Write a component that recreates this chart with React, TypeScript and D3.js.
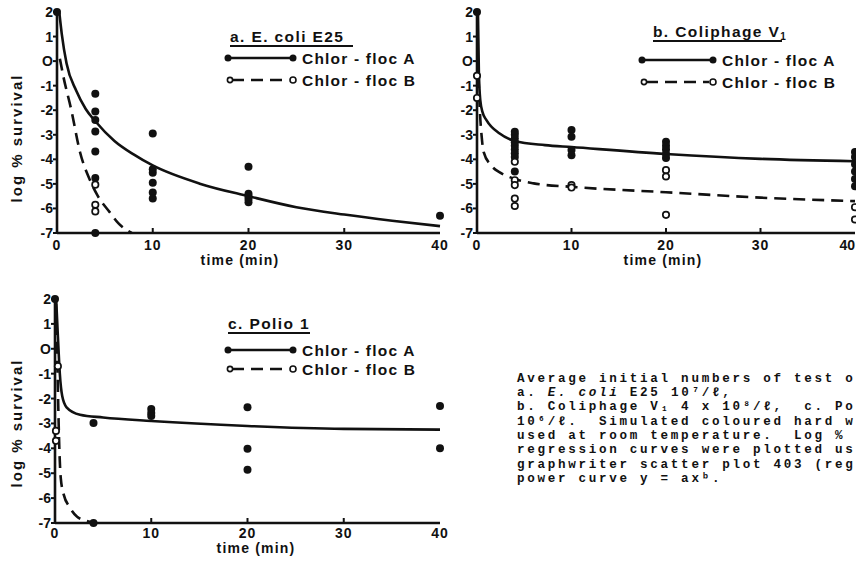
import React from "react";
import * as d3 from "d3";

type Pt = [number, number];

const timeTicks = [0, 10, 20, 30, 40];
const logTicks = [2, 1, 0, -1, -2, -3, -4, -5, -6, -7];
const seriesNames = ["Chlor - floc A", "Chlor - floc B"];

// a. E. coli E25
const ecoliDotsA: Pt[] = [
  [0, 2], [4, -1.33], [4, -2.05], [4, -2.4], [4, -2.87], [4, -3.68], [4, -4.76], [4, -7],
  [10, -2.95], [10, -4.4], [10, -4.55], [10, -4.95], [10, -5.35], [10, -5.6],
  [20, -4.3], [20, -5.4], [20, -5.5], [20, -5.62], [20, -5.75], [40, -6.3],
];
const ecoliDotsB: Pt[] = [[4, -5.03], [4, -5.85], [4, -6.12]];
const ecoliCurveA: Pt[] = [
  [0.25, 1.95], [0.5, 1.1], [1, -0.1], [2, -1.2], [3, -1.95], [4, -2.45], [6, -3.25], [8, -3.8],
  [10, -4.25], [15, -5.0], [20, -5.5], [25, -5.95], [30, -6.25], [35, -6.5], [40, -6.72],
];
const ecoliCurveB: Pt[] = [
  [0.3, 0.1], [0.65, -0.6], [1.5, -2.0], [2.4, -3.7], [3.45, -4.85], [4.2, -5.45],
  [5.5, -6.15], [6.4, -6.6], [7.8, -7],
];

// b. Coliphage V1
const coliDotsA: Pt[] = [
  [0, 2], [4, -2.88], [4, -3.0], [4, -3.15], [4, -3.3], [4, -3.45], [4, -3.6], [4, -3.75], [4, -3.9], [4, -4.5],
  [10, -2.81], [10, -3.08], [10, -3.62], [10, -3.83],
  [20, -3.28], [20, -3.45], [20, -3.6], [20, -3.78], [20, -3.95],
  [40, -3.7], [40, -3.9], [40, -4.2], [40, -4.5], [40, -4.8], [40, -5.1],
];
const coliDotsB: Pt[] = [
  [0, -0.6], [0, -1.5], [4, -4.1], [4, -4.85], [4, -5.05], [4, -5.6], [4, -5.9],
  [10, -5.05], [10, -5.15], [20, -4.44], [20, -4.7], [20, -6.26], [40, -5.95], [40, -6.45],
];
const coliCurveA: Pt[] = [
  [0.1, 2], [0.2, -0.5], [0.35, -1.6], [0.6, -2.1], [1, -2.4], [2.4, -2.95], [4, -3.25],
  [7.2, -3.42], [10, -3.5], [20, -3.78], [30, -3.98], [40, -4.08],
];
const coliCurveB: Pt[] = [
  [0.15, -0.6], [0.3, -2.0], [0.5, -3.1], [0.7, -3.7], [1.5, -4.25], [2.5, -4.55], [4, -4.8],
  [6, -4.98], [10, -5.12], [20, -5.34], [30, -5.56], [40, -5.7],
];

// c. Polio 1
const polioDotsA: Pt[] = [
  [0, 2], [4, -2.98], [4, -7], [10, -2.42], [10, -2.58], [10, -2.7],
  [20, -2.35], [20, -4.02], [20, -4.86], [40, -2.3], [40, -4.0],
];
const polioDotsB: Pt[] = [[0.3, -0.7], [0.1, -3.3], [0.1, -3.7]];
const polioCurveA: Pt[] = [
  [0.12, 2], [0.3, 0.5], [0.5, -1.0], [0.75, -1.9], [1.2, -2.35], [2.6, -2.65], [5, -2.76],
  [10, -2.9], [20, -3.1], [30, -3.22], [40, -3.25],
];
const polioCurveB: Pt[] = [
  [0.1, 1.8], [0.25, -0.7], [0.35, -2.5], [0.45, -4.0], [0.6, -5.2], [0.9, -5.85], [1.5, -6.35],
  [2.3, -6.75], [3.6, -6.95], [4, -7],
];

// caption, as far as it shows inside the frame
const captionLines = [
  "Average initial numbers of test o",
  "a. |E. coli| E25 10⁷/ℓ,",
  "b. Coliphage V₁ 4 x 10⁸/ℓ,  c. Po",
  "10⁶/ℓ.  Simulated coloured hard w",
  "used at room temperature.  Log %",
  "regression curves were plotted us",
  "graphwriter scatter plot 403 (reg",
  "power curve y = axᵇ.",
];

const INK = "#111";
const SANS = "'Liberation Sans', Arial, sans-serif";
const W = 856;

function Legend({ x, y0, y1, lineEnd }: { x: number; y0: number; y1: number; lineEnd: number }) {
  return (
    <g>
      <line x1={x} x2={lineEnd} y1={y0} y2={y0} stroke={INK} strokeWidth={2.5} />
      <circle cx={x} cy={y0} r={3.5} fill={INK} />
      <circle cx={lineEnd} cy={y0} r={3.5} fill={INK} />
      <text x={lineEnd + 9} y={y0 + 6} fontFamily={SANS} fontWeight="bold" fontSize={15.5} letterSpacing={1.2} fill={INK}>
        {seriesNames[0]}
      </text>
      <line x1={x + 4} x2={lineEnd - 4} y1={y1} y2={y1} stroke={INK} strokeWidth={2.5} strokeDasharray="12,7" />
      <circle cx={x + 2} cy={y1} r={2.6} fill="#fff" stroke={INK} strokeWidth={1.6} />
      <circle cx={lineEnd} cy={y1} r={3} fill="#fff" stroke={INK} strokeWidth={1.6} />
      <text x={lineEnd + 9} y={y1 + 6} fontFamily={SANS} fontWeight="bold" fontSize={15.5} letterSpacing={1.2} fill={INK}>
        {seriesNames[1]}
      </text>
    </g>
  );
}

function Panel(p: {
  left: number; right: number; top: number; bottom: number;
  dotsA: Pt[]; dotsB: Pt[]; curveA: Pt[]; curveB: Pt[];
  title: React.ReactNode; titleX: number; titleY: number; underline: number;
  legX: number; legEnd: number; rowA: number; rowB: number;
  yTitleY?: number; xLabelGap: number; xTitleX: number;
}) {
  const x = d3.scaleLinear().domain([0, 40]).range([p.left, p.right]);
  const y = d3.scaleLinear().domain([-7, 2]).range([p.bottom, p.top]);
  const line = d3.line<Pt>().x((d) => x(d[0])).y((d) => y(d[1])).curve(d3.curveMonotoneX);

  return (
    <g>
      {/* axes */}
      <line x1={p.left} x2={p.left} y1={p.top - 1} y2={p.bottom} stroke={INK} strokeWidth={2.6} />
      <line x1={p.left} x2={p.right} y1={p.bottom} y2={p.bottom} stroke={INK} strokeWidth={2.6} />
      {logTicks.map((t) => (
        <g key={"y" + t}>
          <line x1={p.left - 4} x2={p.left} y1={y(t)} y2={y(t)} stroke={INK} strokeWidth={2} />
          <text x={p.left - 4} y={y(t) + 5} textAnchor="end" fontFamily={SANS} fontWeight="bold" fontSize={14} fill={INK}>
            {t < 0 ? "-" + Math.abs(t) : t === 0 ? "O" : t}
          </text>
        </g>
      ))}
      {timeTicks.map((t) => {
        const atEdge = x(t) + 9 > W;
        return (
          <g key={"x" + t}>
            {t > 0 && t < 40 && <line x1={x(t)} x2={x(t)} y1={p.bottom} y2={p.bottom - 5} stroke={INK} strokeWidth={2} />}
            <text x={atEdge ? W - 1 : x(t)} y={p.bottom + p.xLabelGap} textAnchor={atEdge ? "end" : "middle"} fontFamily={SANS} fontWeight="bold" fontSize={14} letterSpacing={atEdge ? 0 : 1} fill={INK}>
              {t}
            </text>
          </g>
        );
      })}
      <text x={p.xTitleX} y={p.bottom + p.xLabelGap + 15} textAnchor="middle" fontFamily={SANS} fontWeight="bold" fontSize={14} letterSpacing={1.2} fill={INK}>
        time (min)
      </text>
      {p.yTitleY !== undefined && (
        <text transform={`translate(22,${p.yTitleY}) rotate(-90)`} textAnchor="middle" fontFamily={SANS} fontWeight="bold" fontSize={15} letterSpacing={2} fill={INK}>
          log % survival
        </text>
      )}

      {/* regression curves */}
      <path d={line(p.curveA) ?? ""} fill="none" stroke={INK} strokeWidth={2.6} />
      <path d={line(p.curveB) ?? ""} fill="none" stroke={INK} strokeWidth={2.6} strokeDasharray="12,7" />

      {/* observations */}
      {p.dotsA.map((d, i) => (
        <circle key={"a" + i} cx={x(d[0])} cy={y(d[1])} r={4} fill={INK} />
      ))}
      {p.dotsB.map((d, i) => (
        <circle key={"b" + i} cx={x(d[0])} cy={y(d[1])} r={3.2} fill="#fff" stroke={INK} strokeWidth={1.7} />
      ))}

      {/* legend */}
      <text x={p.titleX} y={p.titleY} fontFamily={SANS} fontWeight="bold" fontSize={15.5} letterSpacing={1.4} fill={INK}>
        {p.title}
      </text>
      <line x1={p.titleX} x2={p.underline} y1={p.titleY + 4} y2={p.titleY + 4} stroke={INK} strokeWidth={1.8} />
      <Legend x={p.legX} y0={p.rowA} y1={p.rowB} lineEnd={p.legEnd} />
    </g>
  );
}

function Caption() {
  const baseY = 381.7;
  const step = 14.3;
  return (
    <g fontFamily="'Liberation Mono', 'DejaVu Sans Mono', monospace" fontSize={12.6} letterSpacing={2.7} fontWeight="bold" fill={INK}>
      {captionLines.map((ln, i) => {
        const parts = ln.split("|");
        return (
          <text key={i} x={517} y={baseY + i * step} xmlSpace="preserve" style={{ whiteSpace: "pre" }}>
            {parts.map((s, j) => (
              <tspan key={j} fontStyle={j % 2 === 1 ? "italic" : "normal"}>{s}</tspan>
            ))}
          </text>
        );
      })}
    </g>
  );
}

export default function App() {
  return (
    <svg width={W} height={562} style={{ position: "absolute", left: 0, top: 0, background: "#fff" }}>
      <rect width={W} height={562} fill="#fff" />
      <Panel
        left={57} right={440} top={12} bottom={233}
        dotsA={ecoliDotsA} dotsB={ecoliDotsB} curveA={ecoliCurveA} curveB={ecoliCurveB}
        title="a. E. coli E25" titleX={230} titleY={42} underline={353}
        legX={228} legEnd={293} rowA={58} rowB={80} yTitleY={138} xLabelGap={17} xTitleX={240}
      />
      <Panel
        left={477} right={855} top={12} bottom={233}
        dotsA={coliDotsA} dotsB={coliDotsB} curveA={coliCurveA} curveB={coliCurveB}
        title={<>b. Coliphage V<tspan fontSize={10} dy={3}>1</tspan></>} titleX={653} titleY={37} underline={782}
        legX={642} legEnd={713} rowA={60} rowB={82} xLabelGap={17} xTitleX={663}
      />
      <Panel
        left={55} right={440} top={299} bottom={523}
        dotsA={polioDotsA} dotsB={polioDotsB} curveA={polioCurveA} curveB={polioCurveB}
        title="c. Polio 1" titleX={228} titleY={329} underline={310}
        legX={228} legEnd={293} rowA={350} rowB={369} yTitleY={423} xLabelGap={15} xTitleX={256}
      />
      <Caption />
    </svg>
  );
}
